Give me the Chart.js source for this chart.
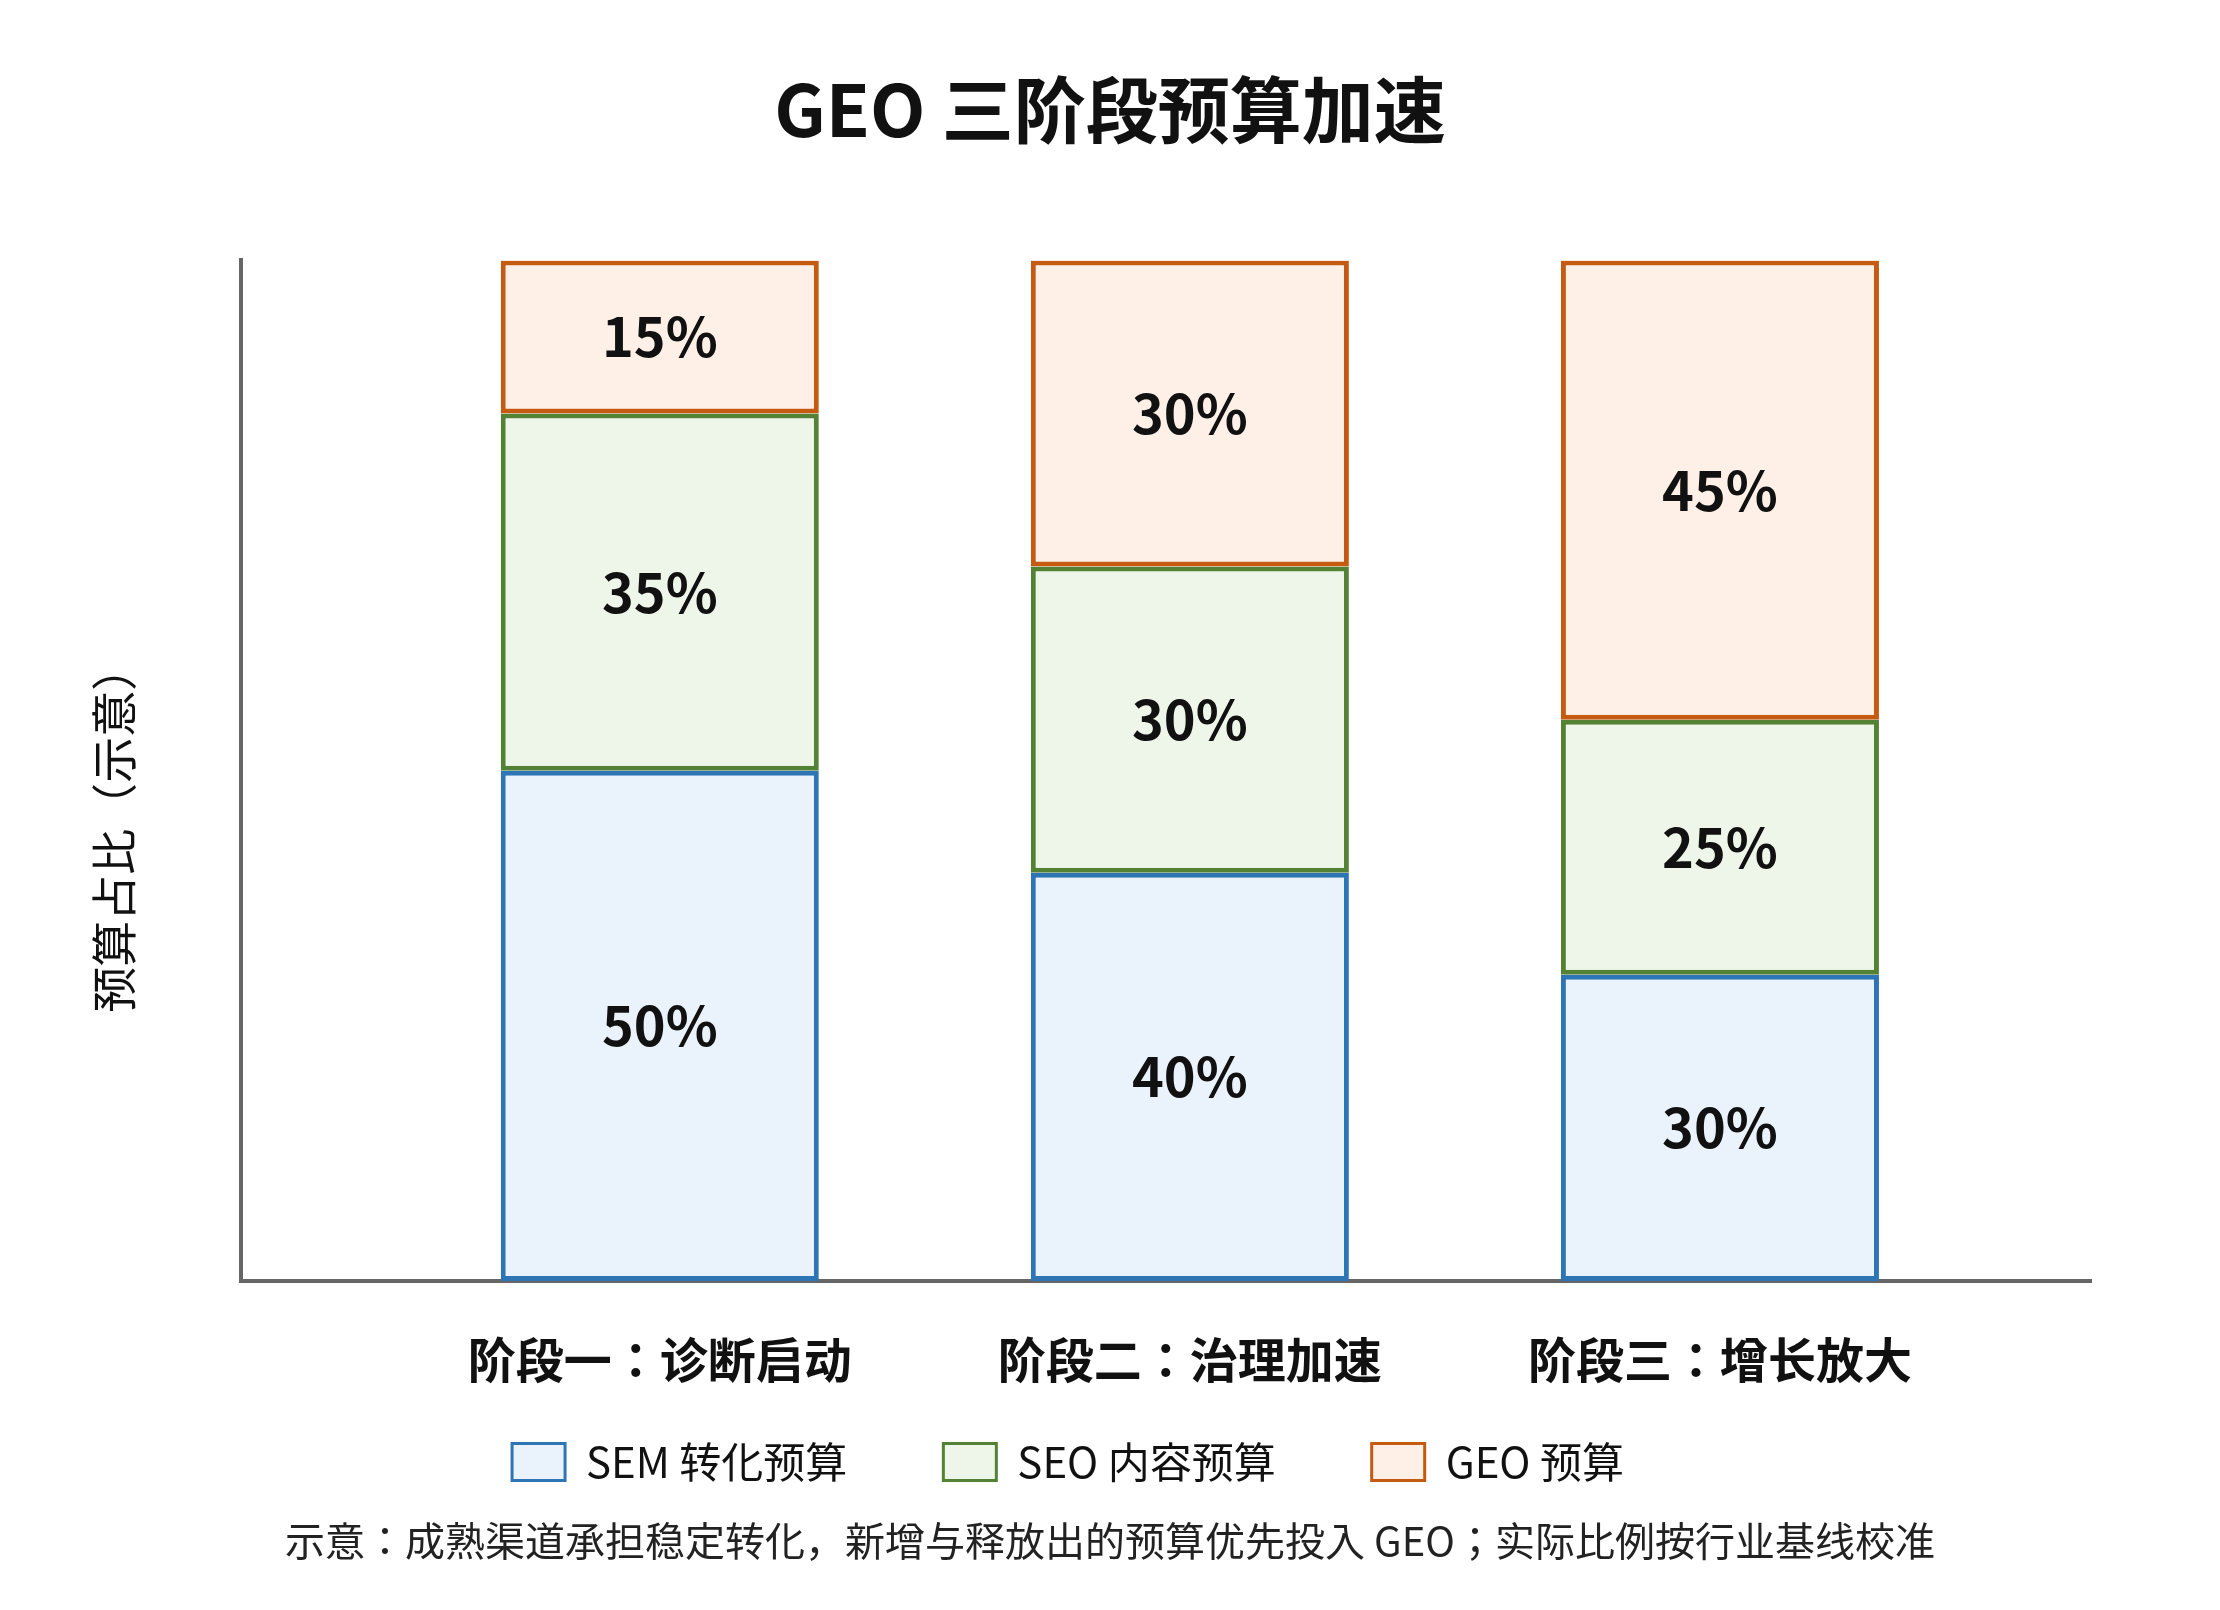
<!DOCTYPE html>
<html lang="zh-CN">
<head>
<meta charset="utf-8">
<title>GEO 三阶段预算加速</title>
<script src="https://cdn.jsdelivr.net/npm/chart.js@4.4.1/dist/chart.umd.min.js"></script>
<style>
  html, body { margin: 0; padding: 0; background: #ffffff; }
  #wrap { width: 2220px; height: 1610px; }
</style>
</head>
<body>
<div id="wrap"><canvas id="budgetChart" lang="ja"></canvas></div>
<script>
// 阶段（横轴类别）
const stages = ['阶段一：诊断启动', '阶段二：治理加速', '阶段三：增长放大'];

// 各渠道预算占比（%）
const semBudget = [50, 40, 30];
const seoBudget = [35, 30, 25];
const geoBudget = [15, 30, 45];

const seriesNames = ['SEM 转化预算', 'SEO 内容预算', 'GEO 预算'];

const chartTitle = 'GEO 三阶段预算加速';
const yAxisTitle = '预算占比（示意）';
const footNote = '示意：成熟渠道承担稳定转化，新增与释放出的预算优先投入 GEO；实际比例按行业基线校准';

const FONT = '"Noto Sans CJK JP", "Noto Sans CJK SC", "Noto Sans", sans-serif';
Chart.defaults.font.family = FONT;
Chart.defaults.color = '#111111';

/**
 * 把数组转成 {x, y} 点，x 为阶段序号。
 * @param {number[]} values
 */
function toPoints(values) {
    return values.map((v, i) => ({ x: i, y: v }));
}

/** 在每个色块中间写百分比 */
const segmentLabels = {
    id: 'segmentLabels',
    afterDatasetsDraw(chart) {
        const ctx = chart.ctx;
        ctx.save();
        ctx.font = 'bold 54px ' + FONT;
        ctx.fillStyle = '#111111';
        ctx.textAlign = 'center';
        ctx.textBaseline = 'middle';
        chart.data.datasets.forEach((ds, di) => {
            chart.getDatasetMeta(di).data.forEach((bar, i) => {
                const { x, y, base } = bar.getProps(['x', 'y', 'base'], true);
                ctx.fillText(ds.data[i].y + '%', x, (y + base) / 2);
            });
        });
        ctx.restore();
    }
};

/** 纵轴标题（位置略低于绘图区中线） */
const yTitle = {
    id: 'yTitle',
    afterDraw(chart) {
        const { ctx, chartArea } = chart;
        ctx.save();
        ctx.translate(chartArea.left - 127, (chartArea.top + chartArea.bottom) / 2 + 58);
        ctx.rotate(-Math.PI / 2);
        ctx.font = '46px ' + FONT;
        ctx.fillStyle = '#111111';
        ctx.textAlign = 'center';
        ctx.textBaseline = 'middle';
        ctx.fillText(yAxisTitle, 0, 0);
        ctx.restore();
    }
};

const ctx = document.getElementById('budgetChart').getContext('2d');

new Chart(ctx, {
    type: 'bar',
    data: {
        datasets: [
            {
                label: seriesNames[0],
                data: toPoints(semBudget),
                backgroundColor: '#EAF2FB',
                borderColor: '#2E75B6'
            },
            {
                label: seriesNames[1],
                data: toPoints(seoBudget),
                backgroundColor: '#EEF5E9',
                borderColor: '#548235'
            },
            {
                label: seriesNames[2],
                data: toPoints(geoBudget),
                backgroundColor: '#FEF0E7',
                borderColor: '#C55A11'
            }
        ]
    },
    options: {
        responsive: true,
        maintainAspectRatio: false,
        animation: false,
        events: [],
        datasets: {
            bar: {
                borderWidth: 5,
                borderSkipped: false,
                categoryPercentage: 0.6,
                barPercentage: 1
            }
        },
        layout: {
            padding: { left: 129, right: 129, top: 0, bottom: 45 }
        },
        scales: {
            x: {
                type: 'linear',
                stacked: true,
                min: -0.79,
                max: 2.7,
                offset: false,
                grid: { display: false, drawTicks: false },
                border: { display: true, color: '#666666', width: 4 },
                afterBuildTicks: (scale) => {
                    scale.ticks = stages.map((_, i) => ({ value: i }));
                },
                afterFit: (scale) => {
                    scale.height = 148;
                },
                ticks: {
                    padding: 50,
                    autoSkip: false,
                    maxRotation: 0,
                    color: '#111111',
                    font: { size: 48, weight: 'bold', lineHeight: 1.2 },
                    callback: (value) => stages[value]
                }
            },
            y: {
                stacked: true,
                min: 0,
                max: 100,
                grid: { display: false, drawTicks: false },
                border: { display: true, color: '#666666', width: 4 },
                ticks: { display: false },
                afterFit: (scale) => {
                    scale.width = 112;
                }
            }
        },
        plugins: {
            title: {
                display: true,
                text: chartTitle,
                color: '#111111',
                font: { size: 72, weight: 'bold', lineHeight: 1.2 },
                padding: { top: 66, bottom: 108 }
            },
            subtitle: {
                display: true,
                position: 'bottom',
                text: footNote,
                color: '#222222',
                font: { size: 40, weight: 'normal', lineHeight: 1.2 },
                padding: { top: 24, bottom: 0 }
            },
            legend: {
                position: 'bottom',
                labels: {
                    boxWidth: 53,
                    boxHeight: 37,
                    padding: 12,
                    color: '#111111',
                    font: { size: 42 },
                    generateLabels: (chart) => {
                        const items = Chart.defaults.plugins.legend.labels.generateLabels(chart);
                        items.forEach((item) => {
                            item.lineWidth = 3;
                            item.text = item.text + '\u3000\u3000'; // 图例项之间留出较宽的间隔
                        });
                        return items;
                    }
                }
            },
            tooltip: { enabled: false }
        }
    },
    plugins: [segmentLabels, yTitle]
});
</script>
</body>
</html>
